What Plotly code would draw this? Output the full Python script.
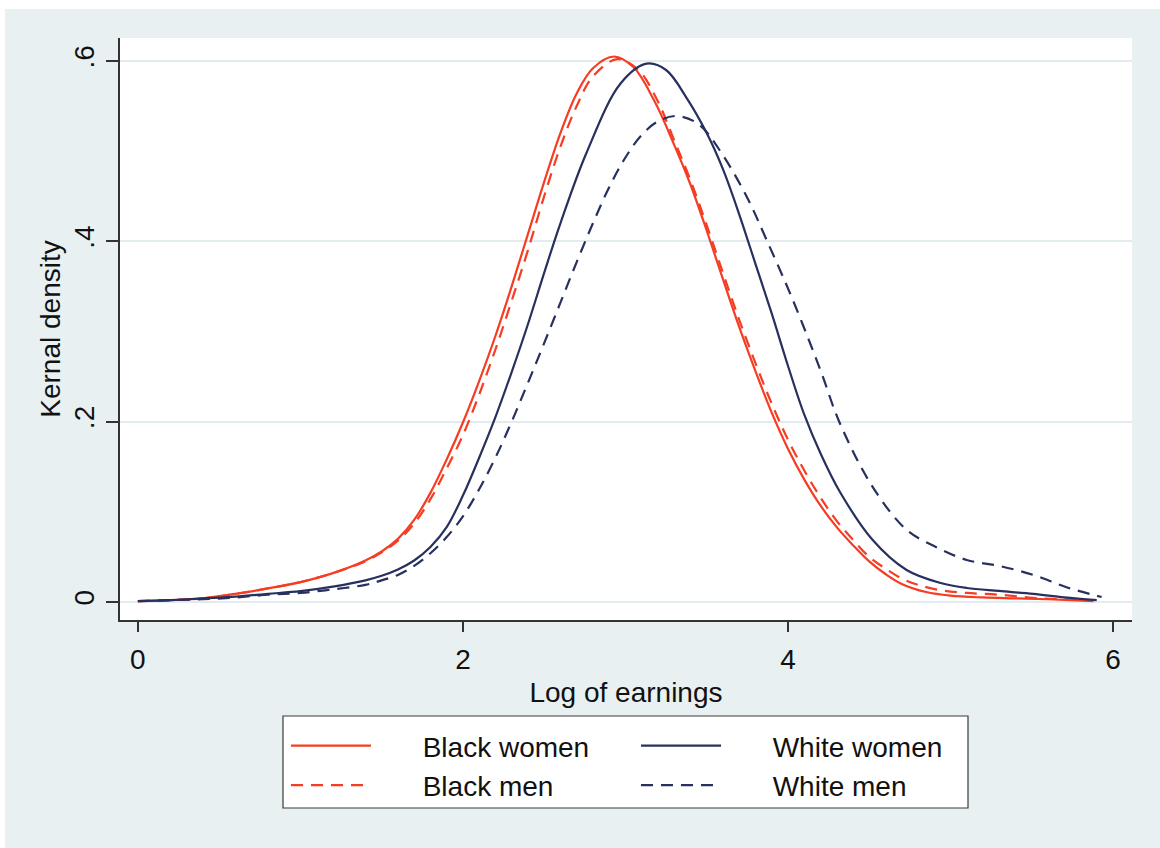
import plotly.graph_objects as go

# ---- Data ----
bw_x = [0.0, 0.2, 0.4, 0.6, 0.8, 1.0, 1.2, 1.4, 1.5, 1.6, 1.7, 1.8, 1.9, 2.0, 2.1, 2.2, 2.3, 2.4, 2.5, 2.6, 2.7, 2.8, 2.93, 3.05, 3.18, 3.3, 3.4, 3.5, 3.6, 3.7, 3.8, 3.9, 4.0, 4.1, 4.2, 4.3, 4.4, 4.5, 4.6, 4.7, 4.85, 5.0, 5.2, 5.4, 5.6, 5.88]
bw_y = [0.001, 0.002, 0.004, 0.009, 0.015, 0.022, 0.032, 0.046, 0.056, 0.07, 0.091, 0.121, 0.158, 0.199, 0.245, 0.295, 0.35, 0.408, 0.466, 0.52, 0.564, 0.592, 0.605, 0.593, 0.555, 0.507, 0.463, 0.412, 0.358, 0.305, 0.256, 0.21, 0.17, 0.136, 0.107, 0.083, 0.063, 0.045, 0.031, 0.02, 0.011, 0.007, 0.005, 0.004, 0.003, 0.001]

bm_x = [0.0, 0.2, 0.4, 0.6, 0.8, 1.0, 1.2, 1.4, 1.5, 1.6, 1.7, 1.8, 1.9, 2.0, 2.1, 2.2, 2.3, 2.4, 2.5, 2.6, 2.7, 2.8, 2.95, 3.08, 3.2, 3.3, 3.4, 3.5, 3.6, 3.7, 3.8, 3.9, 4.0, 4.1, 4.2, 4.3, 4.4, 4.5, 4.6, 4.7, 4.8, 4.94, 5.1, 5.3, 5.51, 5.7, 5.85]
bm_y = [0.001, 0.002, 0.004, 0.009, 0.015, 0.022, 0.032, 0.045, 0.055, 0.068, 0.087, 0.114, 0.148, 0.185, 0.23, 0.28, 0.334, 0.39, 0.45, 0.505, 0.55, 0.583, 0.602, 0.59, 0.555, 0.512, 0.468, 0.418, 0.365, 0.313, 0.265, 0.22, 0.18, 0.146, 0.116, 0.09, 0.069, 0.05, 0.037, 0.026, 0.019, 0.013, 0.01, 0.008, 0.0045, 0.003, 0.002]

ww_x = [0.0, 0.2, 0.4, 0.6, 0.8, 1.0, 1.2, 1.4, 1.5, 1.6, 1.7, 1.8, 1.9, 2.0, 2.1, 2.2, 2.3, 2.4, 2.5, 2.6, 2.76, 2.97, 3.13, 3.25, 3.38, 3.5, 3.6, 3.7, 3.8, 3.9, 4.0, 4.1, 4.2, 4.32, 4.52, 4.73, 4.94, 5.1, 5.3, 5.51, 5.7, 5.9]
ww_y = [0.001, 0.002, 0.004, 0.006, 0.009, 0.012, 0.017, 0.024, 0.029, 0.036, 0.046, 0.061, 0.083, 0.118, 0.16, 0.205, 0.255, 0.308, 0.365, 0.42, 0.498, 0.575, 0.597, 0.59, 0.558, 0.52, 0.48, 0.43, 0.375, 0.32, 0.262, 0.208, 0.165, 0.122, 0.069, 0.0355, 0.021, 0.0155, 0.0122, 0.0089, 0.005, 0.002]

wm_x = [0.0, 0.2, 0.4, 0.6, 0.8, 1.0, 1.2, 1.4, 1.5, 1.6, 1.7, 1.8, 1.9, 2.0, 2.1, 2.2, 2.3, 2.4, 2.5, 2.6, 2.7, 2.8, 2.9, 3.0, 3.1, 3.2, 3.315, 3.45, 3.58, 3.745, 3.87, 4.03, 4.2, 4.32, 4.52, 4.73, 4.91, 5.1, 5.3, 5.51, 5.71, 5.93]
wm_y = [0.001, 0.002, 0.003, 0.005, 0.008, 0.01, 0.014, 0.019, 0.024, 0.03, 0.04, 0.054, 0.072, 0.095, 0.125, 0.16, 0.2, 0.243, 0.287, 0.332, 0.377, 0.42, 0.46, 0.493, 0.518, 0.533, 0.539, 0.53, 0.501, 0.45, 0.401, 0.335, 0.257, 0.198, 0.128, 0.08, 0.061, 0.0466, 0.04, 0.03, 0.0166, 0.0055]

series_names = ["Black women", "Black men", "White women", "White men"]
x_ticks = [0, 2, 4, 6]
y_ticks = [0, 0.2, 0.4, 0.6]
y_tick_text = ["0", ".2", ".4", ".6"]

RED = "#F63C22"
NAVY = "#27305E"
BG = "#E8F0F2"
FONT = "Liberation Sans, Arial, sans-serif"
PAD = "\u00a0" * 6  # gap between legend key and label

fig = go.Figure()
fig.add_trace(go.Scatter(x=bw_x, y=bw_y, name=PAD + series_names[0], mode="lines",
                         line=dict(color=RED, width=2.2, shape="spline", smoothing=1), legend="legend"))
fig.add_trace(go.Scatter(x=bm_x, y=bm_y, name=PAD + series_names[1], mode="lines",
                         line=dict(color=RED, width=2.2, dash="12px,8px", shape="spline", smoothing=1), legend="legend"))
fig.add_trace(go.Scatter(x=ww_x, y=ww_y, name=PAD + series_names[2], mode="lines",
                         line=dict(color=NAVY, width=2.2, shape="spline", smoothing=1), legend="legend2"))
fig.add_trace(go.Scatter(x=wm_x, y=wm_y, name=PAD + series_names[3], mode="lines",
                         line=dict(color=NAVY, width=2.2, dash="12px,8px", shape="spline", smoothing=1), legend="legend2"))

W, H = 1160, 848
L, R, T, B = 120, 28, 38, 228
pw, ph = W - L - R, H - T - B

def px_to_paper_x(px):
    return (px - L) / pw

def px_to_paper_y(py):
    return (H - B - py) / ph

shapes = [
    # white page strips (left and top)
    dict(type="rect", xref="paper", yref="paper", layer="below",
         x0=px_to_paper_x(-2), x1=px_to_paper_x(5), y0=px_to_paper_y(H + 2), y1=px_to_paper_y(-2),
         fillcolor="white", line=dict(width=0)),
    dict(type="rect", xref="paper", yref="paper", layer="below",
         x0=px_to_paper_x(-2), x1=px_to_paper_x(W + 2), y0=px_to_paper_y(9), y1=px_to_paper_y(-2),
         fillcolor="white", line=dict(width=0)),
    # legend box
    dict(type="rect", xref="paper", yref="paper", layer="below",
         x0=px_to_paper_x(283), x1=px_to_paper_x(968), y0=px_to_paper_y(808), y1=px_to_paper_y(716),
         fillcolor="white", line=dict(color="#3a3a3a", width=1.2)),
]

legend_common = dict(
    bgcolor="rgba(0,0,0,0)", borderwidth=0, orientation="v",
    font=dict(family=FONT, size=28, color="#111111"),
    yanchor="top", xanchor="left", itemwidth=80, tracegroupgap=0,
    itemclick=False, itemdoubleclick=False,
)

fig.update_layout(
    width=W, height=H,
    margin=dict(l=L, r=R, t=T, b=B),
    paper_bgcolor=BG, plot_bgcolor="white",
    font=dict(family=FONT, size=28, color="#111111"),
    shapes=shapes,
    legend=dict(**legend_common, x=px_to_paper_x(286), y=px_to_paper_y(721)),
    legend2=dict(**legend_common, x=px_to_paper_x(636), y=px_to_paper_y(721)),
    xaxis=dict(
        range=[-0.11, 6.117], tickmode="array", tickvals=x_ticks,
        ticks="outside", ticklen=10, tickwidth=1.5, tickcolor="#333333",
        showline=True, linecolor="#333333", linewidth=1.5,
        showgrid=False, zeroline=False,
        tickfont=dict(size=28), ticklabelstandoff=4,
        title=dict(text="Log of earnings", font=dict(size=28), standoff=8),
    ),
    yaxis=dict(
        range=[-0.02, 0.6255], tickmode="array", tickvals=y_ticks, ticktext=y_tick_text,
        tickangle=-90,
        ticks="outside", ticklen=12, tickwidth=1.5, tickcolor="#333333",
        showline=True, linecolor="#333333", linewidth=1.5,
        showgrid=True, gridcolor="#E2ECEE", gridwidth=1.5, zeroline=False,
        tickfont=dict(size=28), ticklabelstandoff=1,
        title=dict(text="Kernal density", font=dict(size=28), standoff=0),
    ),
)

fig.write_html("out.html")
